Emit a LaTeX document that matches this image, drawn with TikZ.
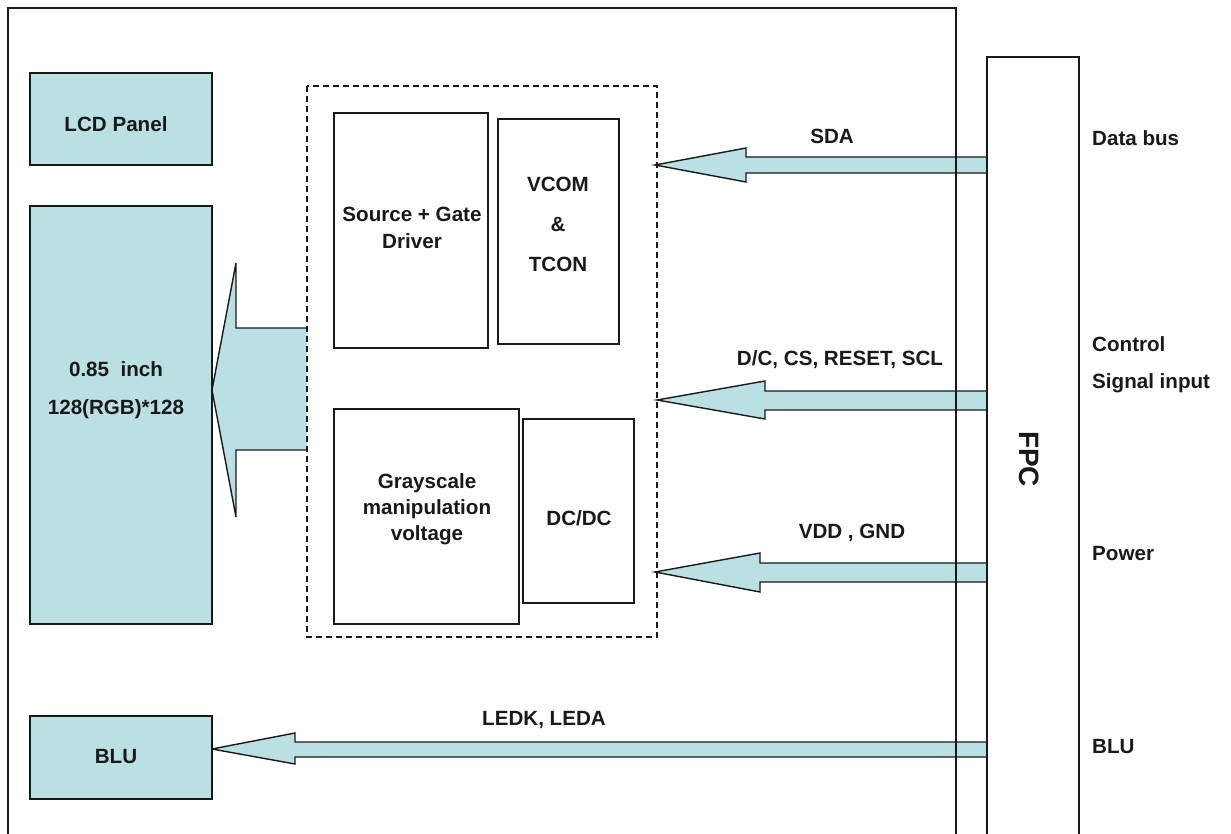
\documentclass[tikz,border=0pt]{standalone}
\usepackage{fontspec}
\setmainfont{Liberation Sans}
\definecolor{panelcyan}{RGB}{186,224,227}
\definecolor{inkc}{RGB}{25,25,25}
\tikzset{
  blk/.style={draw=inkc,line width=1.3pt,fill=panelcyan,inner sep=0pt},
  wbox/.style={draw=inkc,line width=1.3pt,fill=white,inner sep=0pt},
  lbl/.style={inner sep=0pt,text=inkc,font=\fontsize{20.6}{24}\selectfont\bfseries,align=center},
  barrow/.style={fill=panelcyan,draw=inkc,line width=1.4pt,line join=miter},
  frame/.style={draw=inkc,line width=1.3pt},
  dbox/.style={draw=inkc,line width=1.3pt,dash pattern=on 6pt off 4pt}
}
\begin{document}
\begin{tikzpicture}[x=1pt,y=-1pt]
\useasboundingbox (0,0) rectangle (1231,834);
% arrows (drawn first, frame lines over them)
\path[fill=panelcyan] (307,328)--(236,328)--(236,263)--(212,390)--(236,517)--(236,450)--(307,450)--cycle;
\draw[barrow,fill=none] (307,328)--(236,328)--(236,263)--(212,390)--(236,517)--(236,450)--(307,450);
\draw[barrow] (987,157)--(746,157)--(746,148)--(655,165)--(746,182)--(746,173)--(987,173);
\draw[barrow] (987,391)--(765,391)--(765,381)--(657,400)--(765,419)--(765,410)--(987,410);
\draw[barrow] (987,563)--(760,563)--(760,553)--(655,572)--(760,592)--(760,582)--(987,582);
\draw[barrow] (987,742)--(295,742)--(295,733)--(212,749)--(295,764)--(295,757)--(987,757)--cycle;
% outer frame and FPC
\coordinate (fbl) at (8,834);
\coordinate (ftl) at (8,8);
\coordinate (ftr) at (956,8);
\coordinate (fbr) at (956,834);
\draw[frame] (fbl)--(ftl)--(ftr)--(fbr);
\coordinate (pbl) at (987,834);
\coordinate (ptl) at (987,57);
\coordinate (ptr) at (1079,57);
\coordinate (pbr) at (1079,834);
\draw[frame] (pbl)--(ptl)--(ptr)--(pbr);
\node[lbl,rotate=-90] (fpc) at (1029,459) {\fontsize{28}{32}\selectfont FPC};
% left blocks
\node[blk,minimum width=182pt,minimum height=92pt] (lcd) at (121,119) {};
\node[lbl] at (116,124) {LCD Panel};
\node[blk,minimum width=182pt,minimum height=418pt] (panel) at (121,415) {};
\node[lbl] (p1) at (116,369) {0.85\ \ inch};
\node[lbl] (p2) at (116,409) {128(RGB)*128};
\node[blk,minimum width=182pt,minimum height=83pt] (blu) at (121,757.5) {};
\node[lbl] at (116,757) {BLU};
% dashed controller box
\draw[dbox] (307,86) rectangle (657,637);
\node[wbox,minimum width=154pt,minimum height=235pt] (sg) at (411,230.5) {};
\node[lbl] at (412,228) {Source + Gate\\[3pt]Driver};
\node[wbox,minimum width=121pt,minimum height=225pt] (vc) at (558.5,231.5) {};
\node[lbl] at (558,184) {VCOM};
\node[lbl] at (558,224) {\&};
\node[lbl] at (558,264) {TCON};
\node[wbox,minimum width=185pt,minimum height=215pt] (gs) at (426.5,516.5) {};
\node[lbl] at (427,509) {Grayscale\\[2pt]manipulation\\[2pt]voltage};
\node[wbox,minimum width=111pt,minimum height=184pt] (dc) at (578.5,511) {};
\node[lbl] at (579,518) {DC/DC};
% arrow labels
\node[lbl] at (832,136) {SDA};
\node[lbl] at (840,360) {D/C, CS, RESET, SCL};
\node[lbl] at (852,533) {VDD , GND};
\node[lbl] at (544,720) {LEDK, LEDA};
% right labels
\node[lbl,anchor=west] at (1092,138) {Data bus};
\node[lbl,anchor=west] at (1092,344) {Control};
\node[lbl,anchor=west] at (1092,383) {Signal input};
\node[lbl,anchor=west] at (1092,554) {Power};
\node[lbl,anchor=west] at (1092,747) {BLU};
\end{tikzpicture}
\end{document}
